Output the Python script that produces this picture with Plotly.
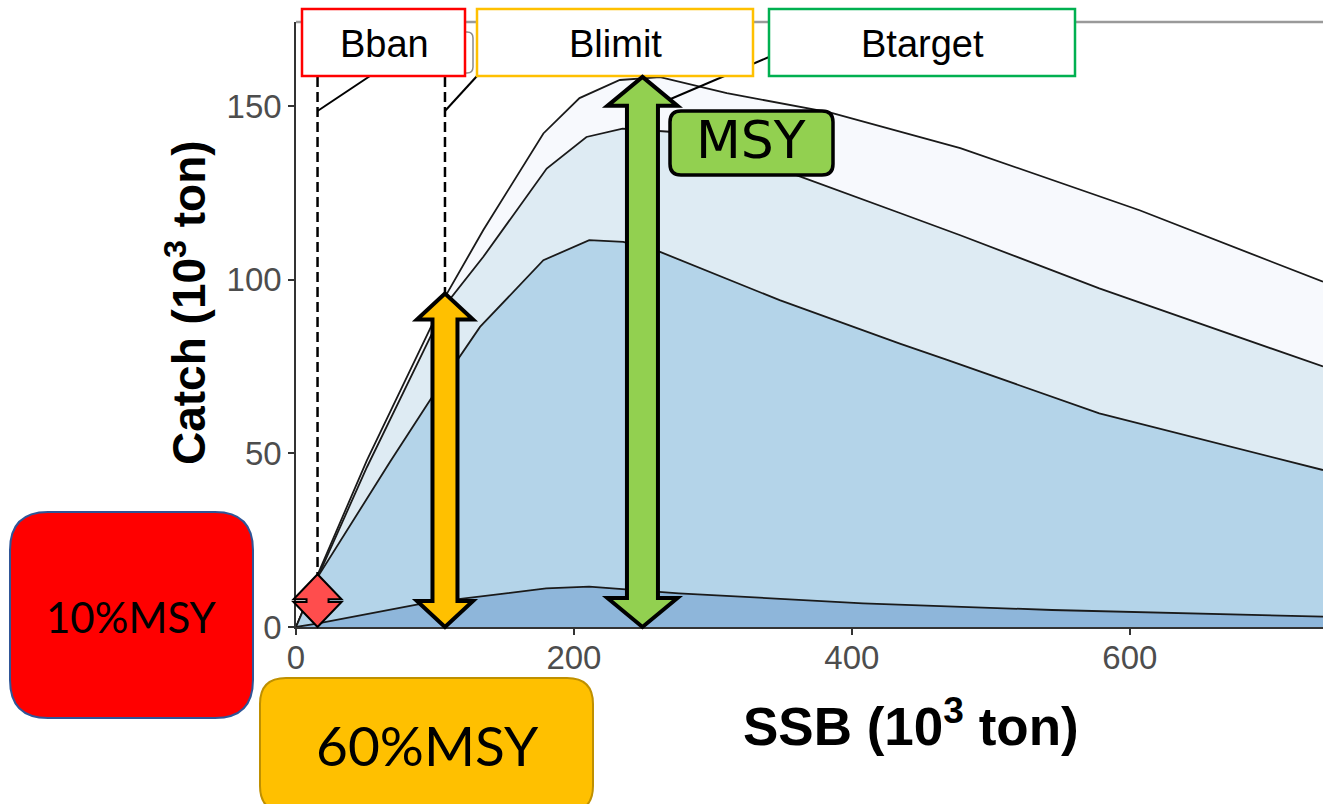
import plotly.graph_objects as go

# ---------------- data ----------------
ssb_top = [0, 15, 51, 108.6, 134.8, 178, 204, 233, 262, 310, 384, 478, 607, 739]
catch_top = [0, 14.5, 48, 96, 114.3, 142.1, 152.3, 157.5, 158.3, 153.7, 148.2, 137.9, 120, 99.4]

ssb_second = [0, 15, 51, 108.6, 134.8, 180.4, 209, 235, 269, 360, 434.5, 478, 578, 739]
catch_second = [0, 13.8, 46, 93.3, 106.6, 132, 141.1, 143.5, 142.6, 130.1, 119.2, 112.8, 97.5, 75]

ssb_third = [0, 15, 67.6, 96.4, 132.4, 178, 211, 235.5, 262, 348, 434.5, 468, 578, 739]
catch_third = [0, 14, 47.5, 65.3, 86.4, 105.6, 111.4, 110.9, 108, 94.1, 81.6, 77, 61.5, 45.2]

ssb_bottom = [0, 15, 91.6, 180, 211, 275.5, 408, 544, 739]
catch_bottom = [0, 1.0, 6.8, 11.1, 11.6, 9.7, 6.8, 4.9, 3.0]

ref_names = ["Bban", "Blimit", "Btarget"]
ref_ssb = [15.5, 107.2, 249.3]
arrow_catch = [15.2, 96.0, 158.4]
box_labels = ["10%MSY", "60%MSY"]

x_ticks = [0, 200, 400, 600]
y_ticks = [0, 50, 100, 150]
XMAX, YMAX = 739, 174.2

# ---------------- geometry helpers ----------------
W, H = 1323, 804
L, T, R, B = 296, 22, 1323, 627

def dx(x):  # data x -> px
    return L + x / XMAX * (R - L)

def dy(y):  # data y -> px
    return B - y / YMAX * (B - T)

def px_(px):  # px -> paper x
    return (px - L) / (R - L)

def py_(py):  # px -> paper y
    return (B - py) / (B - T)

def poly_path(pts):
    return "M " + " L ".join(f"{px_(x):.5f},{py_(y):.5f}" for x, y in pts) + " Z"

def rrect_path(x0, y0, x1, y1, r):
    def p(x, y):
        return f"{px_(x):.5f},{py_(y):.5f}"
    return (f"M {p(x0 + r, y0)} L {p(x1 - r, y0)} Q {p(x1, y0)} {p(x1, y0 + r)} "
            f"L {p(x1, y1 - r)} Q {p(x1, y1)} {p(x1 - r, y1)} L {p(x0 + r, y1)} "
            f"Q {p(x0, y1)} {p(x0, y1 - r)} L {p(x0, y0 + r)} Q {p(x0, y0)} {p(x0 + r, y0)} Z")

def arrow_pts(cx, ytop, ybot, hw, hl, sw):
    return [(cx, ytop), (cx + hw, ytop + hl), (cx + sw, ytop + hl), (cx + sw, ybot - hl),
            (cx + hw, ybot - hl), (cx, ybot), (cx - hw, ybot - hl), (cx - sw, ybot - hl),
            (cx - sw, ytop + hl), (cx - hw, ytop + hl)]

fig = go.Figure()

fills = ["#f7f9fd", "#deebf3", "#b4d4e9", "#8eb6da"]
series = [(ssb_top, catch_top), (ssb_second, catch_second),
          (ssb_third, catch_third), (ssb_bottom, catch_bottom)]
for (xs, ys), col in zip(series, fills):
    fig.add_trace(go.Scatter(x=xs, y=ys, mode="lines", fill="tozeroy", fillcolor=col,
                             line=dict(color="#1a1a1a", width=1.8), hoverinfo="skip",
                             showlegend=False))

shapes = []
# top frame line
shapes.append(dict(type="line", xref="paper", yref="paper", x0=0, x1=1, y0=1, y1=1,
                   line=dict(color="#9a9a9a", width=2.5), layer="above"))
# dashed reference lines (Bban, Blimit)
for xv in ref_ssb[:2]:
    shapes.append(dict(type="line", xref="x", yref="y", x0=xv, x1=xv, y0=0, y1=(B - 76) / (B - T) * YMAX,
                       line=dict(color="black", width=2.5, dash="10px,5px"), layer="above"))
# connector segments
seg_ends = [(370, 76), (477, 76), (769, 57)]
for xv, (ex, ey) in zip(ref_ssb, seg_ends):
    shapes.append(dict(type="line", xref="paper", yref="paper", x0=px_(dx(xv)), y0=py_(111),
                       x1=px_(ex), y1=py_(ey), line=dict(color="black", width=2), layer="above"))
# hidden gray rounded label box
shapes.append(dict(type="path", xref="paper", yref="paper", path=rrect_path(400, 32, 473, 73, 6),
                   fillcolor="white", line=dict(color="#8a8a8a", width=1.5), layer="above"))
# label boxes at top
top_boxes = [(302, 465, "#ff0000"), (477, 753, "#ffc000"), (769, 1075, "#00b050")]
for (x0, x1, col) in top_boxes:
    shapes.append(dict(type="rect", xref="paper", yref="paper", x0=px_(x0), x1=px_(x1),
                       y0=py_(76), y1=py_(9), fillcolor="white",
                       line=dict(color=col, width=2.5), layer="above"))

# arrows
arrow_style = [
    dict(hw=24, hl=25, sw=11, fill="#ff4d4d", lw=2),
    dict(hw=28, hl=26, sw=12.5, fill="#ffc000", lw=4),
    dict(hw=35, hl=29, sw=15.5, fill="#92d050", lw=4),
]
for xv, yv, st in zip(ref_ssb, arrow_catch, arrow_style):
    pts = arrow_pts(dx(xv), dy(yv), B, st["hw"], st["hl"], st["sw"])
    shapes.append(dict(type="path", xref="paper", yref="paper", path=poly_path(pts),
                       fillcolor=st["fill"], line=dict(color="black", width=st["lw"]),
                       layer="above"))

# MSY label box
shapes.append(dict(type="path", xref="paper", yref="paper", path=rrect_path(670, 111, 833, 175, 11),
                   fillcolor="#92d050", line=dict(color="black", width=3.5), layer="above"))
# 10%MSY box and 60%MSY box
shapes.append(dict(type="path", xref="paper", yref="paper", path=rrect_path(10, 512, 253, 718, 38),
                   fillcolor="#ff0000", line=dict(color="#2f5597", width=2), layer="above"))
shapes.append(dict(type="path", xref="paper", yref="paper", path=rrect_path(260, 678, 593, 812, 26),
                   fillcolor="#ffc000", line=dict(color="#bf9000", width=2), layer="above"))

annotations = []
label_centers = [(384, 44), (615, 44), (922, 44)]
for name, (cx, cy) in zip(ref_names, label_centers):
    annotations.append(dict(text=name, xref="paper", yref="paper", x=px_(cx), y=py_(cy),
                            showarrow=False, xanchor="center", yanchor="middle",
                            font=dict(family="Liberation Sans, Arial", size=38, color="black")))
annotations.append(dict(text="MSY", xref="paper", yref="paper", x=px_(751), y=py_(140),
                        showarrow=False, xanchor="center", yanchor="middle",
                        font=dict(family="DejaVu Sans", size=52, color="black")))
annotations.append(dict(text=box_labels[0], xref="paper", yref="paper", x=px_(131), y=py_(617),
                        showarrow=False, xanchor="center", yanchor="middle",
                        font=dict(family="Lato", size=42, color="black")))
annotations.append(dict(text=box_labels[1], xref="paper", yref="paper", x=px_(427), y=py_(745),
                        showarrow=False, xanchor="center", yanchor="middle",
                        font=dict(family="Lato", size=55, color="black")))
annotations.append(dict(text="SSB (10<sup>3</sup> ton)", xref="paper", yref="paper",
                        x=px_(911), y=py_(722), showarrow=False, xanchor="center", yanchor="middle",
                        font=dict(family="Liberation Sans, Arial", size=53, color="black", weight="bold")))
annotations.append(dict(text="Catch (10<sup>3</sup> ton)", xref="paper", yref="paper",
                        x=px_(186), y=py_(303), showarrow=False, xanchor="center", yanchor="middle",
                        textangle=-90,
                        font=dict(family="Liberation Sans, Arial", size=46, color="black", weight="bold")))

axis_common = dict(showgrid=False, zeroline=False, showline=True, linecolor="#333333", linewidth=1.5,
                   ticks="outside", ticklen=6, tickwidth=1.5, tickcolor="#333333",
                   tickfont=dict(family="Liberation Sans, Arial", size=33, color="#4d4d4d"))

fig.update_layout(
    width=W, height=H, autosize=False,
    margin=dict(l=L, r=W - R, t=T, b=H - B, pad=0),
    paper_bgcolor="white", plot_bgcolor="white",
    xaxis=dict(range=[0, XMAX], tickvals=x_ticks, ticklabelstandoff=-5, **axis_common),
    yaxis=dict(range=[0, YMAX], tickvals=y_ticks, **axis_common),
    shapes=shapes, annotations=annotations, showlegend=False,
)

fig.write_html("out.html", config={"displayModeBar": False},
               post_script="document.body.style.margin='0px';document.body.style.padding='0px';"
                           "document.body.style.overflow='hidden';"
                           "document.documentElement.style.overflow='hidden';")
